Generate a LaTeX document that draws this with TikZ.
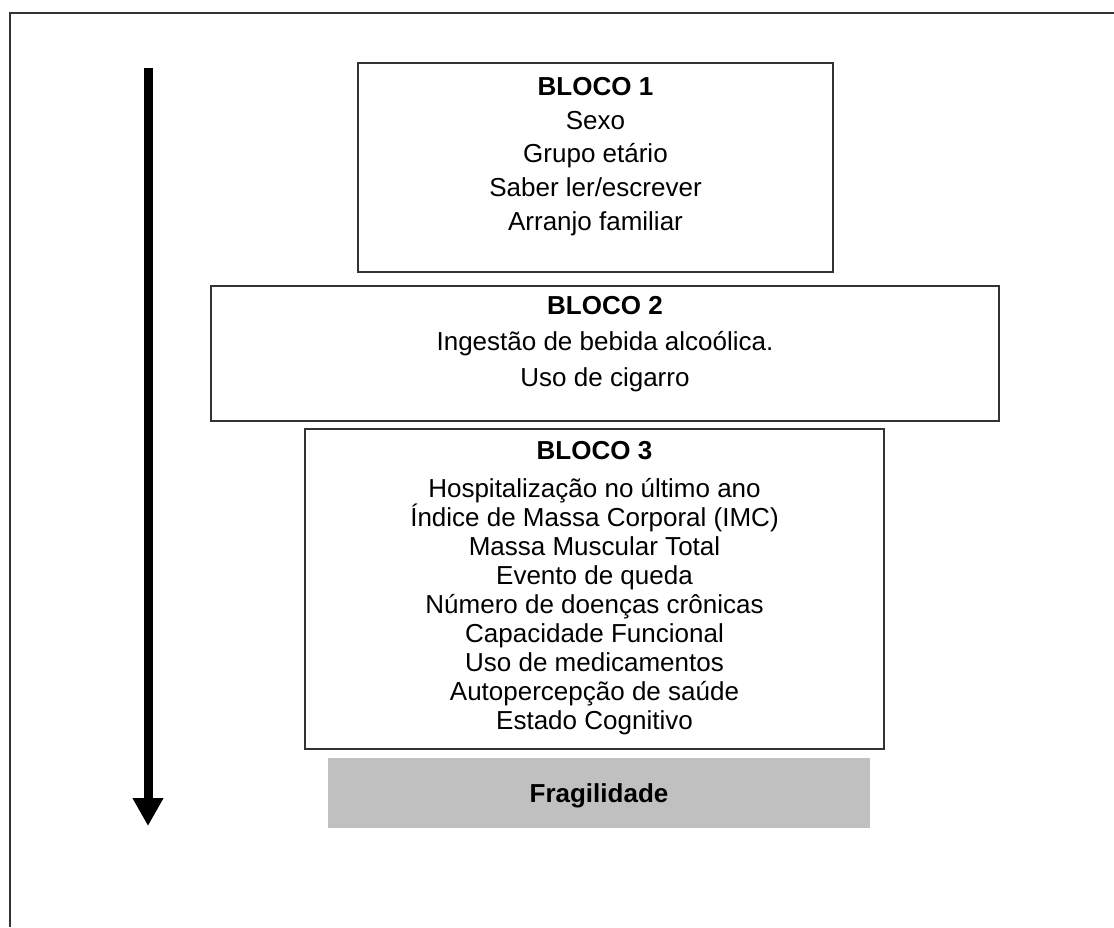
\documentclass[tikz,border=0pt]{standalone}
\usepackage{fontspec}
\setmainfont{Liberation Sans}
\usetikzlibrary{arrows.meta,calc}
\definecolor{fragfill}{RGB}{192,192,192}
\begin{document}
\begin{tikzpicture}[x=0.5pt,y=-0.5pt,
  blockbox/.style={draw=black!80, line width=0.75pt, rectangle, inner sep=0pt, outer sep=0pt},
  blocktext/.style={align=center, inner sep=0pt, outer sep=0pt},
  fragbox/.style={fill=fragfill, draw=none, rectangle, inner sep=0pt, minimum width=271pt, minimum height=35pt, text depth=0pt, font=\fontsize{13}{14.5}\selectfont\bfseries},
  framestyle/.style={line width=1pt, black!80},
  flowarrow/.style={line width=4.5pt, -{Triangle[width=14.5pt,length=14pt]}}]
\useasboundingbox (0,0) rectangle (1114,927);
% outer frame (only top and left edges visible)
\coordinate (fbl) at (9.5,927);
\coordinate (ftl) at (9.5,12.5);
\coordinate (ftr) at (1114,12.5);
\draw[framestyle] (fbl) -- (ftl) -- (ftr);
% arrow
\coordinate (as) at (148,68);
\coordinate (ae) at (148,826);
\draw[flowarrow] (as) -- (ae);
% boxes
\node[blockbox, minimum width=237.5pt, minimum height=104.5pt] (b1) at (595.5,167.5) {};
\node[blockbox, minimum width=394pt, minimum height=67.5pt] (b2) at (605,353.5) {};
\node[blockbox, minimum width=289.5pt, minimum height=160pt] (b3) at (594.5,589) {};
\node[fragbox] (frag) at (599,793) {Fragilidade};
% texts
\node[blocktext, font=\fontsize{13}{16.9}\selectfont] (t1) at ($(b1.north)+(0,93.5)$)
  {\textbf{BLOCO 1}\\Sexo\\Grupo etário\\Saber ler/escrever\\Arranjo familiar};
\node[blocktext, font=\fontsize{13}{18}\selectfont] (t2) at ($(b2.north)+(0,58)$)
  {\textbf{BLOCO 2}\\Ingestão de bebida alcoólica.\\Uso de cigarro};
\node[blocktext, font=\fontsize{13}{14.5}\selectfont] (t3) at ($(b3.north)+(0,159.5)$)
  {\textbf{BLOCO 3}\\[4.5pt]Hospitalização no último ano\\Índice de Massa Corporal (IMC)\\Massa Muscular Total\\Evento de queda\\Número de doenças crônicas\\Capacidade Funcional\\Uso de medicamentos\\Autopercepção de saúde\\Estado Cognitivo};
\end{tikzpicture}
\end{document}
